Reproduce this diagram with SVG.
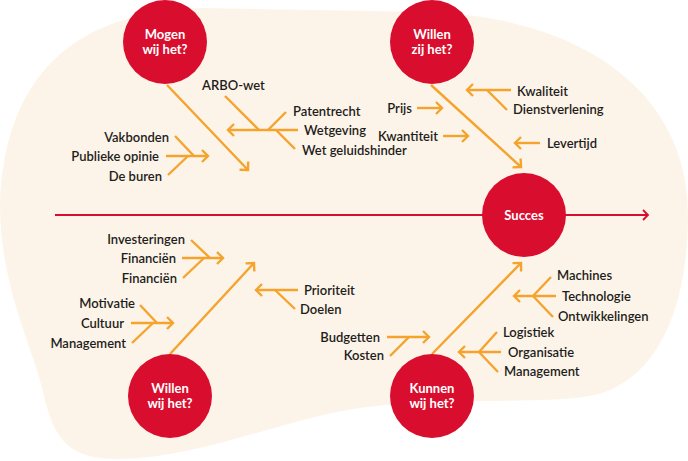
<svg xmlns="http://www.w3.org/2000/svg" width="688" height="461" viewBox="0 0 688 461">
<defs>
<style>
.bg{fill:#fdf4e9}
.c{fill:#d90d2e}
.ct{fill:#ffffff;font-family:Lato,"Liberation Sans",sans-serif;font-size:13px;font-weight:700;text-anchor:middle}
.t{fill:#1d1d1b;font-family:Lato,"Liberation Sans",sans-serif;font-size:13px;font-weight:600}
.e{text-anchor:end}
.o{stroke:#f5a32c;stroke-width:2.4;fill:none}
.r{stroke:#d90d2e;stroke-width:1.8;fill:none}
</style>
<marker id="ao" markerUnits="userSpaceOnUse" viewBox="-10 -10 20 20" markerWidth="20" markerHeight="20" refX="0" refY="0" orient="auto" overflow="visible">
<path d="M-6,-6 L0,0 L-6,6" fill="none" stroke="#f5a32c" stroke-width="2.4"/>
</marker>
<marker id="ar" markerUnits="userSpaceOnUse" viewBox="-10 -10 20 20" markerWidth="20" markerHeight="20" refX="0" refY="0" orient="auto" overflow="visible">
<path d="M-5,-5 L0,0 L-5,5" fill="none" stroke="#d90d2e" stroke-width="1.8"/>
</marker>
</defs>
<rect width="688" height="461" fill="#ffffff"/>
<path class="bg" d="M0,205 C4,80 70,12 200,8 L430,12 C580,18 688,90 688,215 C688,320 650,385 590,396 C540,405 440,396 360,408 C280,420 200,458 120,459 C70,460 55,440 45,400 C35,350 0,290 0,205 Z"/>
<g id="connectors">
<line class="r" x1="55" y1="215" x2="648" y2="215" marker-end="url(#ar)"/>
<line class="o" x1="167" y1="85" x2="248" y2="170" marker-end="url(#ao)"/>
<line class="o" x1="431" y1="85" x2="521" y2="167" marker-end="url(#ao)"/>
<line class="o" x1="170" y1="354" x2="254" y2="263" marker-end="url(#ao)"/>
<line class="o" x1="432" y1="354" x2="521" y2="263" marker-end="url(#ao)"/>
<line class="o" x1="298" y1="130" x2="228" y2="130" marker-end="url(#ao)"/>
<line class="o" x1="225" y1="96" x2="259" y2="130"/>
<line class="o" x1="286" y1="112" x2="268" y2="130"/>
<line class="o" x1="295" y1="149" x2="276" y2="130"/>
<line class="o" x1="166" y1="156" x2="208" y2="156" marker-end="url(#ao)"/>
<line class="o" x1="175" y1="136" x2="194" y2="156"/>
<line class="o" x1="168" y1="175" x2="188" y2="156"/>
<line class="o" x1="511" y1="90" x2="467" y2="90" marker-end="url(#ao)"/>
<line class="o" x1="507" y1="110" x2="487" y2="90"/>
<line class="o" x1="417" y1="108" x2="442" y2="108" marker-end="url(#ao)"/>
<line class="o" x1="443" y1="136" x2="468" y2="136" marker-end="url(#ao)"/>
<line class="o" x1="540" y1="143" x2="515" y2="143" marker-end="url(#ao)"/>
<line class="o" x1="182" y1="258" x2="223" y2="258" marker-end="url(#ao)"/>
<line class="o" x1="191" y1="240" x2="210" y2="258"/>
<line class="o" x1="183" y1="278" x2="204" y2="258"/>
<line class="o" x1="131" y1="323" x2="173" y2="323" marker-end="url(#ao)"/>
<line class="o" x1="140" y1="305" x2="157" y2="323"/>
<line class="o" x1="132" y1="343" x2="153" y2="323"/>
<line class="o" x1="298" y1="290" x2="256" y2="290" marker-end="url(#ao)"/>
<line class="o" x1="295" y1="309" x2="275" y2="290"/>
<line class="o" x1="387" y1="337" x2="429" y2="337" marker-end="url(#ao)"/>
<line class="o" x1="390" y1="356" x2="409" y2="337"/>
<line class="o" x1="556" y1="296" x2="514" y2="296" marker-end="url(#ao)"/>
<line class="o" x1="551" y1="277" x2="533" y2="296"/>
<line class="o" x1="553" y1="317" x2="533" y2="296"/>
<line class="o" x1="501" y1="352" x2="459" y2="352" marker-end="url(#ao)"/>
<line class="o" x1="497" y1="332" x2="479" y2="352"/>
<line class="o" x1="498" y1="372" x2="479" y2="352"/>
</g>
<g id="mogen"><circle class="c" cx="165" cy="42" r="42"/><text class="ct" x="165" y="39">Mogen</text><text class="ct" x="165" y="54">wij het?</text></g>
<g id="willen-zij"><circle class="c" cx="432" cy="42" r="42"/><text class="ct" x="432" y="39">Willen</text><text class="ct" x="432" y="54">zij het?</text></g>
<g id="succes"><circle class="c" cx="524" cy="215" r="42"/><text class="ct" x="524" y="220">Succes</text></g>
<g id="willen-wij"><circle class="c" cx="170" cy="396" r="42"/><text class="ct" x="170" y="393">Willen</text><text class="ct" x="170" y="408">wij het?</text></g>
<g id="kunnen"><circle class="c" cx="432" cy="396" r="42"/><text class="ct" x="432" y="393">Kunnen</text><text class="ct" x="432" y="408">wij het?</text></g>
<g id="labels">
<text class="t" x="202" y="90">ARBO-wet</text>
<text class="t" x="293" y="116">Patentrecht</text>
<text class="t" x="304" y="135">Wetgeving</text>
<text class="t" x="302" y="155">Wet geluidshinder</text>
<text class="t e" x="169" y="142">Vakbonden</text>
<text class="t e" x="159" y="161">Publieke opinie</text>
<text class="t e" x="162" y="181">De buren</text>
<text class="t e" x="412" y="113">Prijs</text>
<text class="t e" x="438" y="141">Kwantiteit</text>
<text class="t" x="517" y="96">Kwaliteit</text>
<text class="t" x="513" y="114">Dienstverlening</text>
<text class="t" x="547" y="148">Levertijd</text>
<text class="t e" x="185" y="244">Investeringen</text>
<text class="t e" x="176" y="263">Financiën</text>
<text class="t e" x="177" y="283">Financiën</text>
<text class="t e" x="135" y="308">Motivatie</text>
<text class="t e" x="124" y="328">Cultuur</text>
<text class="t e" x="126" y="348">Management</text>
<text class="t" x="304" y="295">Prioriteit</text>
<text class="t" x="300" y="314">Doelen</text>
<text class="t e" x="380" y="342">Budgetten</text>
<text class="t e" x="384" y="360">Kosten</text>
<text class="t" x="557" y="280">Machines</text>
<text class="t" x="562" y="301">Technologie</text>
<text class="t" x="558" y="321">Ontwikkelingen</text>
<text class="t" x="503" y="337">Logistiek</text>
<text class="t" x="508" y="357">Organisatie</text>
<text class="t" x="504" y="376">Management</text>
</g>
</svg>
